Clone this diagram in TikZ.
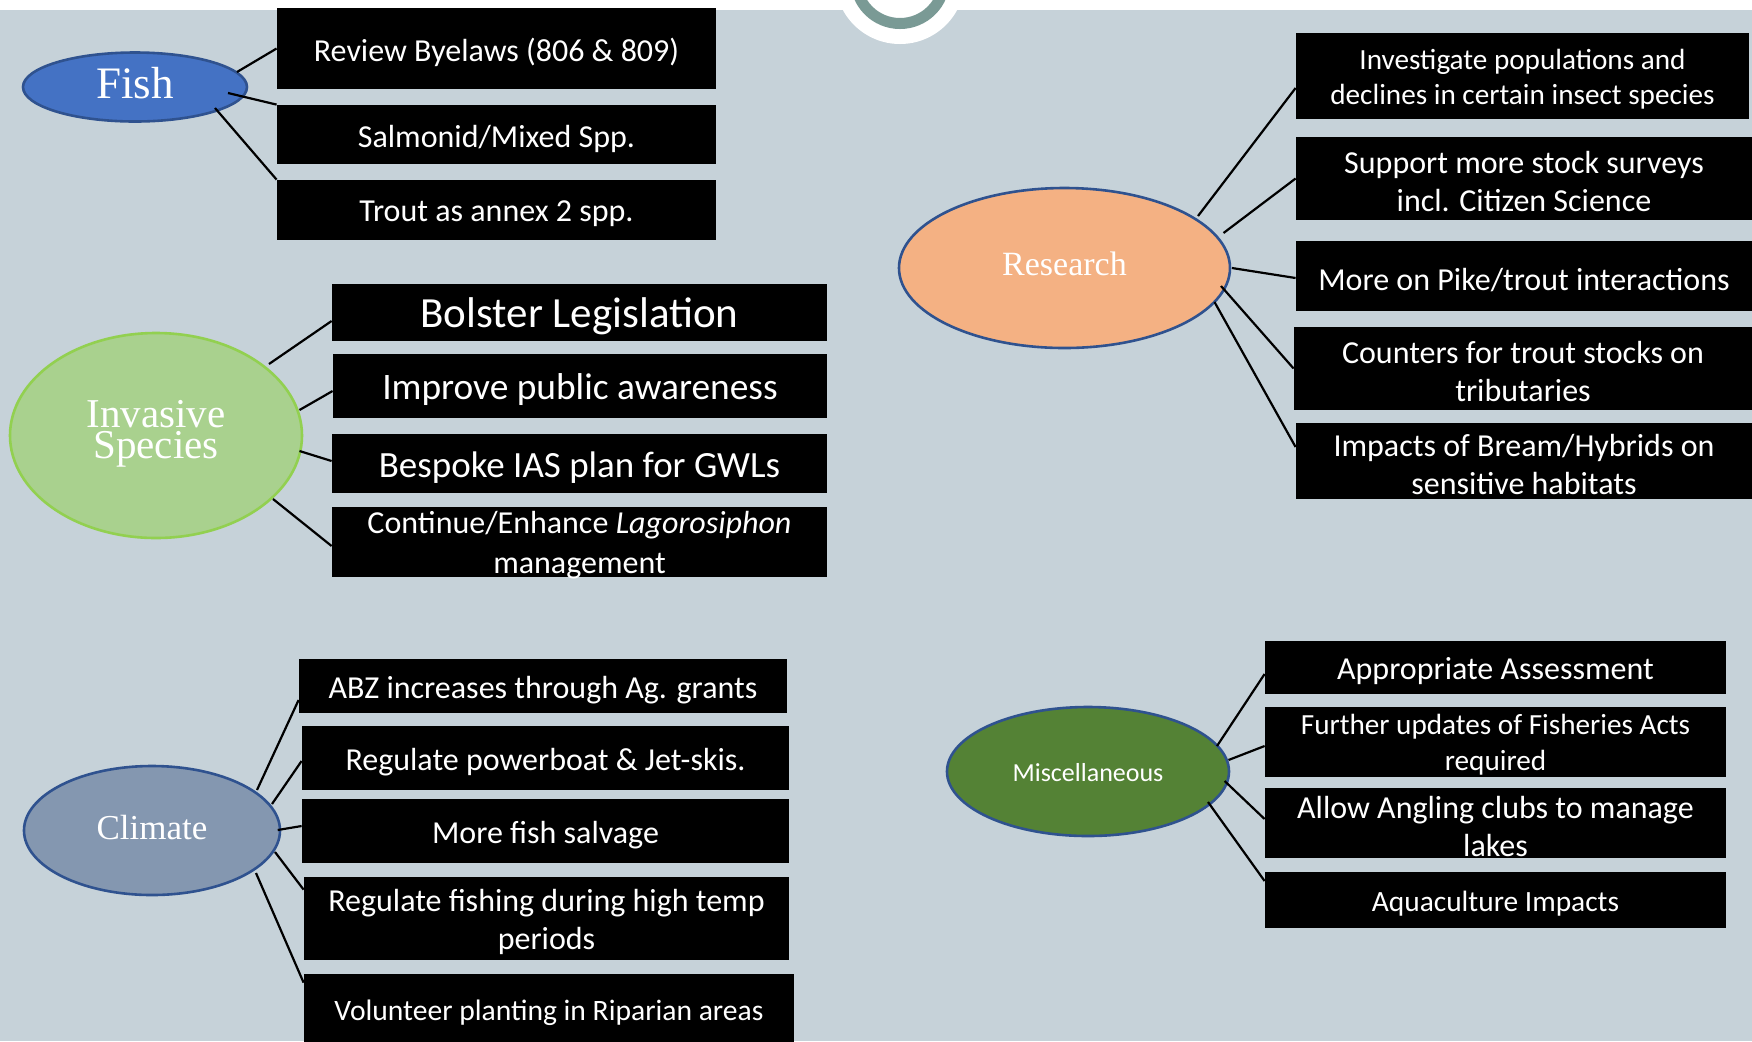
\documentclass[tikz,border=0pt]{standalone}
\usepackage{fontspec}
\setmainfont{Carlito}
\newfontfamily\catfont{Liberation Serif}
\usetikzlibrary{shapes.geometric,calc}
\definecolor{bg}{HTML}{C6D2D9}
\definecolor{ringteal}{HTML}{7A9A95}
\definecolor{fishblue}{HTML}{4472C4}
\definecolor{edgeblue}{HTML}{2F528F}
\definecolor{invfill}{HTML}{A9D18E}
\definecolor{invedge}{HTML}{92D050}
\definecolor{resfill}{HTML}{F4B183}
\definecolor{climfill}{HTML}{8497B0}
\definecolor{miscfill}{HTML}{548235}
\tikzset{
  cat/.style={ellipse, inner sep=0pt, line width=1.3pt},
  ctxt/.style={text=white, inner sep=0pt, align=center},
  bx/.style 2 args={fill=black, inner sep=0pt, minimum width=#1, minimum height=#2},
  btxt/.style={text=white, inner sep=0pt, align=center,
    font=\fontsize{16pt}{19pt}\selectfont},
  conn/.style={draw=black, line width=1.1pt}
}
\begin{document}
\begin{tikzpicture}[x=0.5pt,y=-0.5pt]
\useasboundingbox (0,0) rectangle (1752,1041);
\fill[bg] (0,0) rectangle (1752,1041);
\fill[white] (0,0) rectangle (1752,10);
\fill[white] (900,-21) circle[radius=32.5pt];
\draw[ringteal, line width=5.5pt] (900,-21) circle[radius=22.25pt];

% category ellipses
\node[cat, fill=fishblue, draw=edgeblue, minimum width=112pt, minimum height=34.5pt] (fish) at (135,87) {};
\node[cat, fill=invfill, draw=invedge, minimum width=146pt, minimum height=102.5pt] (inv) at (156,435.5) {};
\node[cat, fill=resfill, draw=edgeblue, minimum width=165.5pt, minimum height=80pt] (res) at (1064.5,268) {};
\node[cat, fill=climfill, draw=edgeblue, minimum width=128pt, minimum height=64.5pt] (clim) at (152,830.5) {};
\node[cat, fill=miscfill, draw=edgeblue, minimum width=141pt, minimum height=64.5pt] (misc) at (1088,771.5) {};

\node[ctxt, font=\catfont\fontsize{22.5pt}{24pt}\selectfont] (fisht) at ($(fish.center)+(0,-4)$) {Fish};
\node[ctxt, font=\catfont\fontsize{20.5pt}{15.5pt}\selectfont] (invt) at ($(inv.center)+(0,-2)$) {Invasive\\Species};
\node[ctxt, font=\catfont\fontsize{17pt}{19pt}\selectfont] (rest) at ($(res.center)+(0,-4)$) {Research};
\node[ctxt, font=\catfont\fontsize{17.5pt}{19pt}\selectfont] (climt) at ($(clim.center)+(0,-3)$) {Climate};
\node[ctxt, font=\fontsize{13pt}{15pt}\selectfont] (misct) at ($(misc.center)+(0,1)$) {Miscellaneous};

% Fish boxes
\node[bx={219.5pt}{40.5pt}] (rev) at (496.5,48.5) {};
\node[bx={219.5pt}{29.5pt}] (salm) at (496.5,134.5) {};
\node[bx={219.5pt}{30pt}] (trout) at (496.5,210) {};
\node[btxt] (revt) at ($(rev.center)+(0,4)$) {Review Byelaws (806 \& 809)};
\node[btxt] (salmt) at ($(salm.center)+(0,4)$) {Salmonid/Mixed Spp.};
\node[btxt] (troutt) at ($(trout.center)+(0,4)$) {Trout as annex 2 spp.};

% Invasive boxes
\node[bx={247.5pt}{28.5pt}] (bol) at (579.5,312.5) {};
\node[bx={247pt}{32pt}] (imp) at (580,386) {};
\node[bx={247.5pt}{29.5pt}] (besp) at (579.5,463.5) {};
\node[bx={247.5pt}{35pt}] (cont) at (579.5,542) {};
\node[btxt, font=\fontsize{21.5pt}{24pt}\selectfont] (bolt) at ($(bol.center)+(0,4)$) {Bolster Legislation};
\node[btxt, font=\fontsize{18.7pt}{21pt}\selectfont] (impt) at ($(imp.center)+(0,4)$) {Improve public awareness};
\node[btxt, font=\fontsize{18.5pt}{21pt}\selectfont] (bespt) at ($(besp.center)+(0,4)$) {Bespoke IAS plan for GWLs};
\node[btxt, font=\fontsize{16pt}{20pt}\selectfont] (contt) at ($(cont.center)+(0,3)$) {Continue/Enhance \textit{Lagorosiphon}\\management};

% Research boxes
\node[bx={226.5pt}{43pt}] (rinv) at (1522.5,76) {};
\node[bx={228pt}{41.5pt}] (sup) at (1524,178.5) {};
\node[bx={228pt}{35pt}] (pike) at (1524,276) {};
\node[bx={229pt}{41.5pt}] (cnt) at (1523,368.5) {};
\node[bx={228pt}{38pt}] (imps) at (1524,461) {};
\node[btxt, font=\fontsize{14.6pt}{17.5pt}\selectfont] (rinvt) at ($(rinv.center)+(0,3)$) {Investigate populations and\\declines in certain insect species};
\node[btxt] (supt) at ($(sup.center)+(0,3)$) {Support more stock surveys\\incl. Citizen Science};
\node[btxt] (piket) at ($(pike.center)+(0,4)$) {More on Pike/trout interactions};
\node[btxt] (cntt) at ($(cnt.center)+(0,3)$) {Counters for trout stocks on\\tributaries};
\node[btxt] (impst) at ($(imps.center)+(0,3)$) {Impacts of Bream/Hybrids on\\sensitive habitats};

% Climate boxes
\node[bx={244pt}{27pt}] (abz) at (543,686) {};
\node[bx={243.5pt}{32pt}] (pwr) at (545.5,758) {};
\node[bx={243.5pt}{32pt}] (salv) at (545.5,831) {};
\node[bx={242.5pt}{41.5pt}] (fishg) at (546.5,918.5) {};
\node[bx={245pt}{35pt}] (vol) at (549,1009) {};
\node[btxt] (abzt) at ($(abz.center)+(0,4)$) {ABZ increases through Ag. grants};
\node[btxt] (pwrt) at ($(pwr.center)+(0,4)$) {Regulate powerboat \& Jet-skis.};
\node[btxt] (salvt) at ($(salv.center)+(0,4)$) {More fish salvage};
\node[btxt] (fishgt) at ($(fishg.center)+(0,3)$) {Regulate fishing during high temp\\periods};
\node[btxt, font=\fontsize{14.8pt}{17pt}\selectfont] (volt) at ($(vol.center)+(0,4)$) {Volunteer planting in Riparian areas};

% Miscellaneous boxes
\node[bx={230.5pt}{26.5pt}] (app) at (1495.5,667.5) {};
\node[bx={230.5pt}{35pt}] (fur) at (1495.5,742) {};
\node[bx={230.5pt}{35pt}] (allow) at (1495.5,823) {};
\node[bx={230.5pt}{28pt}] (aqua) at (1495.5,900) {};
\node[btxt] (appt) at ($(app.center)+(0,4)$) {Appropriate Assessment};
\node[btxt, font=\fontsize{14.6pt}{18pt}\selectfont] (furt) at ($(fur.center)+(0,3)$) {Further updates of Fisheries Acts\\required};
\node[btxt] (allowt) at ($(allow.center)+(0,3)$) {Allow Angling clubs to manage\\lakes};
\node[btxt, font=\fontsize{14.7pt}{17pt}\selectfont] (aquat) at ($(aqua.center)+(0,4)$) {Aquaculture Impacts};

% connectors: Fish
\draw[conn] ($(fish.center)+(102,-15)$) -- (rev.west);
\draw[conn] ($(fish.center)+(93,6)$) -- (salm.north west);
\draw[conn] ($(fish.center)+(80,21)$) -- (trout.north west);
% Invasive
\draw[conn] ($(inv.center)+(113,-71.5)$) -- ($(bol.west)+(0,8.5)$);
\draw[conn] ($(inv.center)+(143.5,-25.5)$) -- ($(imp.west)+(0,5)$);
\draw[conn] ($(inv.center)+(143.5,15.5)$) -- ($(besp.west)+(0,-2.5)$);
\draw[conn] ($(inv.center)+(117,63.5)$) -- ($(cont.west)+(0,4)$);
% Research
\draw[conn] ($(res.center)+(133.5,-52)$) -- ($(rinv.west)+(0,12)$);
\draw[conn] ($(res.center)+(159,-35)$) -- (sup.west);
\draw[conn] ($(res.center)+(167.5,0)$) -- ($(pike.west)+(0,2)$);
\draw[conn] ($(res.center)+(156.5,18)$) -- (cnt.west);
\draw[conn] ($(res.center)+(150,34)$) -- ($(imps.west)+(0,-14)$);
% Climate
\draw[conn] ($(clim.center)+(105,-40.5)$) -- ($(abz.west)+(0,14)$);
\draw[conn] ($(clim.center)+(120,-26.5)$) -- ($(pwr.west)+(0,3)$);
\draw[conn] ($(clim.center)+(125.7,-0.5)$) -- ($(salv.west)+(0,-5)$);
\draw[conn] ($(clim.center)+(123,21.5)$) -- ($(fishg.north west)+(0,13)$);
\draw[conn] ($(clim.center)+(104,42.5)$) -- ($(vol.north west)+(0,9)$);
% Miscellaneous
\draw[conn] ($(misc.center)+(129,-25.5)$) -- ($(app.west)+(0,6.5)$);
\draw[conn] ($(misc.center)+(140.5,-11.5)$) -- ($(fur.west)+(0,4)$);
\draw[conn] ($(misc.center)+(136.6,9.5)$) -- ($(allow.west)+(0,-4)$);
\draw[conn] ($(misc.center)+(120,30.5)$) -- ($(aqua.west)+(0,-19)$);
\end{tikzpicture}
\end{document}
